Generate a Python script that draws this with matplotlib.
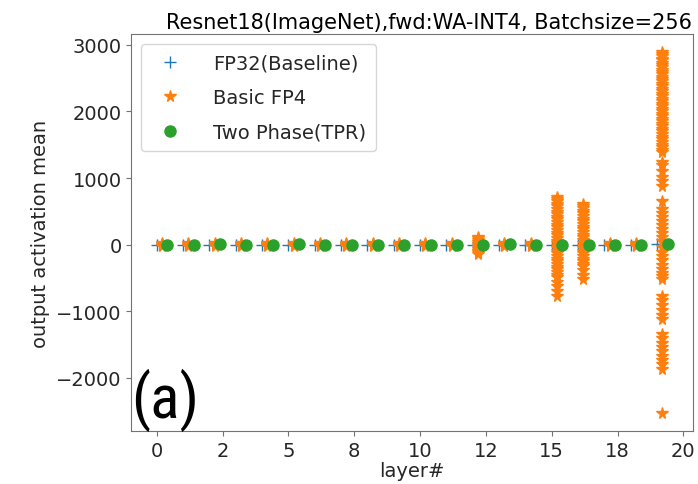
import numpy as np
import matplotlib.pyplot as plt

layers = list(range(20))

# per-layer mean of FP32 baseline and two-phase rounding (all close to zero)
fp32_vals = [1, 0, 2, 1, 0, 1, 0, 2, 1, 0, 1, 0, 2, 1, 0, 1, 2, 0, 1, 3]
tpr_vals = [2, 1, 3, 1, 2, 4, 1, 2, 1, 2, 1, 2, 1, 3, 1, 2, 2, 1, 2, 5]

# basic FP4: most layers stay near zero, a few blow up
fp4_quiet = [18, 6, -8, -20]
fp4_layer12 = [120, 95, 70, 40, 15, -10, -35, -60, -90, -115, -135]
fp4_layer15 = [715, 690, 650, 610, 575, 530, 495, 455, 420, 380, 340, 300, 265, 225,
               180, 145, 105, 60, 25, -15, -55, -90, -130, -175, -210, -250, -290,
               -330, -370, -410, -450, -480, -560, -620, -700, -765]
fp4_layer16 = [612, 585, 545, 505, 470, 425, 390, 350, 305, 270, 230, 185, 150, 110,
               70, 30, -15, -50, -95, -130, -170, -215, -250, -290, -320, -380, -450,
               -515]
fp4_layer19 = [2890, 2865, 2830, 2795, 2770, 2735, 2700, 2665, 2630, 2600, 2560, 2525,
               2490, 2455, 2415, 2380, 2345, 2305, 2270, 2235, 2190, 2155, 2120, 2085,
               2040, 2005, 1965, 1930, 1890, 1855, 1815, 1775, 1740, 1700, 1665, 1620,
               1585, 1545, 1500, 1465, 1425, 1390, 1240, 1190, 1110, 1020, 950, 880,
               660, 540, 480, 420, 355, 290, 230, 170, 110, 55, -40, -105, -170, -235,
               -300, -360, -420, -470, -515, -765, -830, -900, -975, -1050, -1115,
               -1340, -1405, -1470, -1540, -1600, -1665, -1725, -1790, -1865, -2530]
fp4_by_layer = {12: fp4_layer12, 15: fp4_layer15, 16: fp4_layer16, 19: fp4_layer19}

xtick_pos = [0, 2.5, 5, 7.5, 10, 12.5, 15, 17.5, 20]
xtick_labels = ['0', '2', '5', '8', '10', '12', '15', '18', '20']

fp4_x = []
fp4_y = []
for l in layers:
    vals = fp4_by_layer.get(l, fp4_quiet)
    fp4_x += [l + 0.2] * len(vals)
    fp4_y += vals

plt.rcParams['font.size'] = 14
fig = plt.figure(figsize=(6.98, 4.85), dpi=100)
ax = fig.add_axes([0.188, 0.109, 0.805, 0.819])

ax.plot(layers, fp32_vals, '+', color='C0', ms=8, label='FP32(Baseline)')
ax.plot(fp4_x, fp4_y, '*', color='C1', ms=8.5, label='Basic FP4')
ax.plot([l + 0.4 for l in layers], tpr_vals, 'o', color='C2', ms=8,
        label='Two Phase(TPR)')

ax.set_xticks(xtick_pos)
ax.set_xticklabels(xtick_labels)
ax.set_ylim(-2800, 3165)
ax.set_xlabel('layer#', labelpad=1)
ax.set_ylabel('output activation mean')
ax.set_title('Resnet18(ImageNet),fwd:WA-INT4, Batchsize=256', fontsize=15, pad=4,
             x=0.53)
for s in ax.spines.values():
    s.set_color('0.45')
ax.tick_params(colors='0.45', labelcolor='0.15')
ax.xaxis.label.set_color('0.15')
ax.yaxis.label.set_color('0.15')

ax.legend(loc='upper left', fontsize=14, handletextpad=1.2, borderpad=0.5,
          labelspacing=0.8, labelcolor='0.15')
ax.text(0.0, 0.0, '(a)', transform=ax.transAxes, fontsize=44,
        family=['Roboto Condensed', 'Liberation Sans Narrow', 'DejaVu Sans'],
        fontstretch='condensed', va='bottom', ha='left')

fig.savefig('out.png')
